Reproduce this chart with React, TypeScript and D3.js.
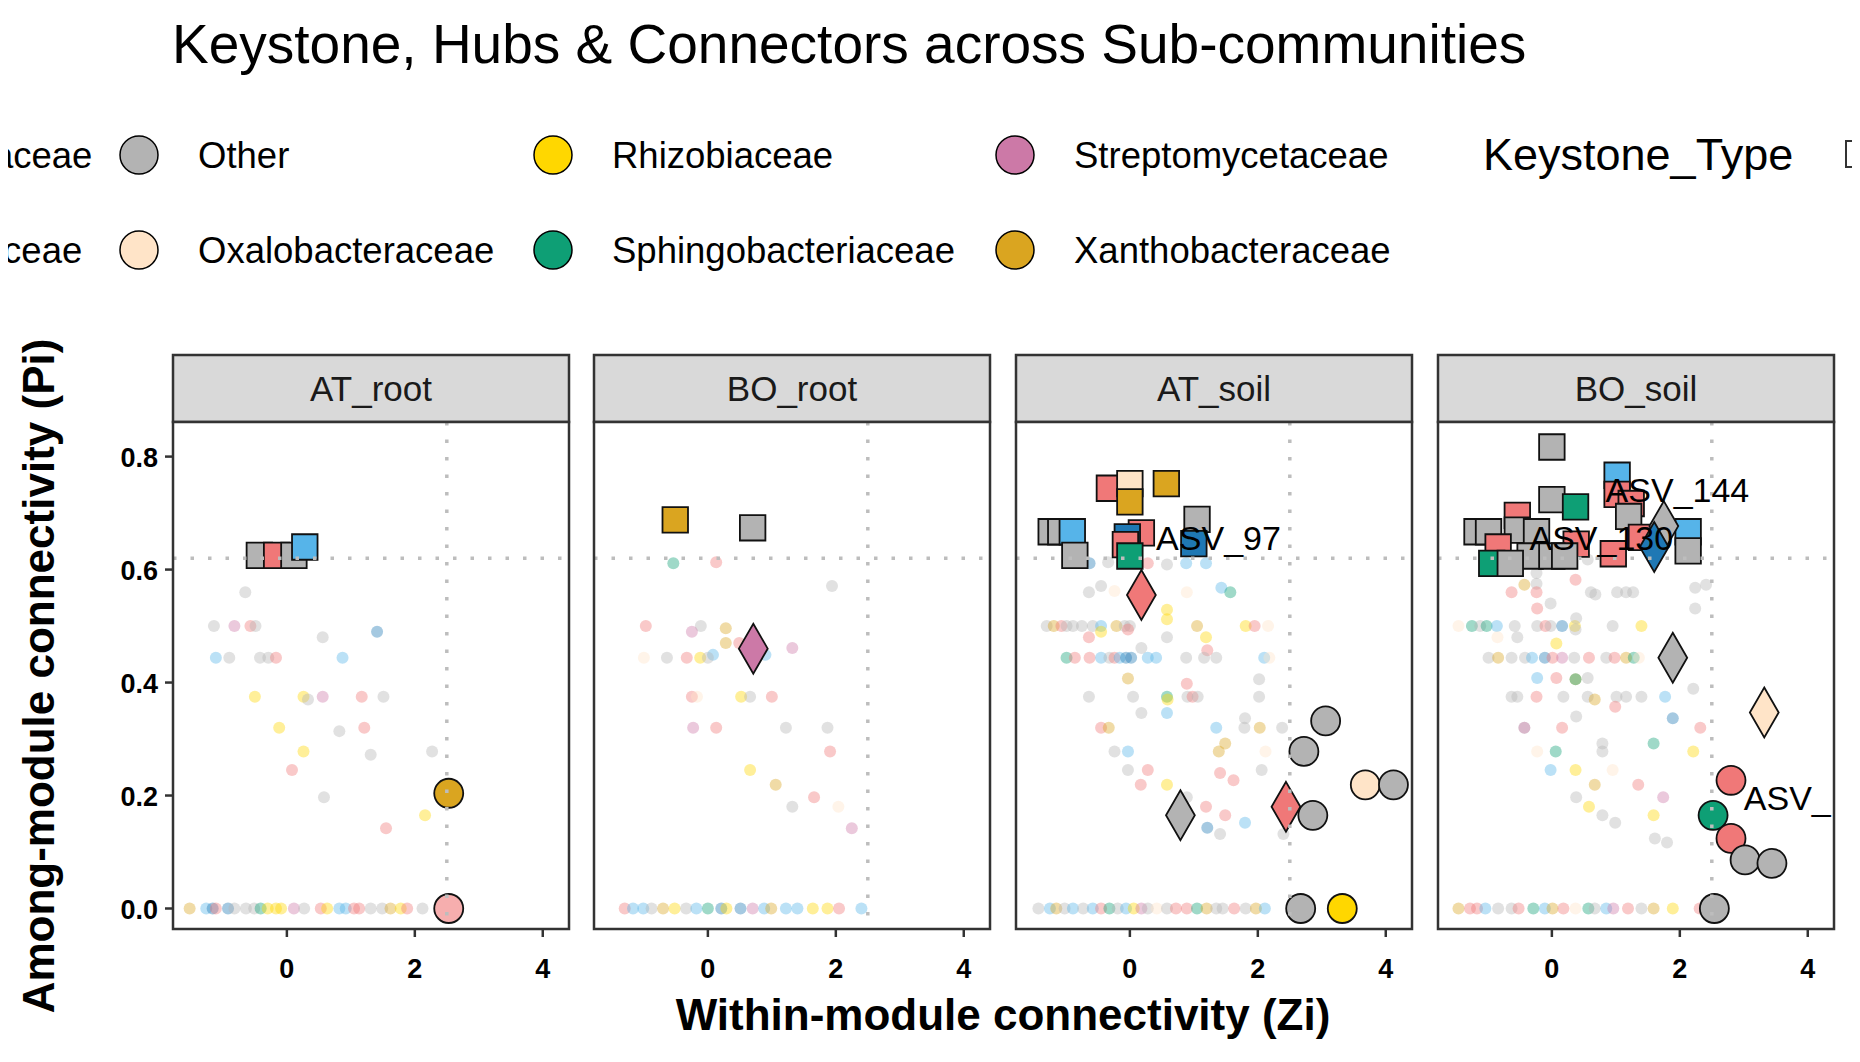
import * as React from 'react';
import { scaleLinear, symbol, symbolSquare, symbolDiamond, symbolCircle } from 'd3';

// family colours
const families: [string, string, string][] = [
  ['B', 'Bacillaceae', '#1F78B4'],
  ['Bu', 'Burkholderiaceae', '#E31A1C'],
  ['C', 'Comamonadaceae', '#F07878'],
  ['F', 'Flavobacteriaceae', '#56B4E9'],
  ['O', 'Other', '#B3B3B3'],
  ['X', 'Oxalobacteraceae', '#FFE4C8'],
  ['R', 'Rhizobiaceae', '#FFD700'],
  ['G', 'Sphingobacteriaceae', '#0E9F75'],
  ['S', 'Streptomycetaceae', '#CC79A7'],
  ['Y', 'Xanthobacteraceae', '#DAA520'],
];
const colorOf = (k: string) => (families.find(f => f[0] === k) || families[4])[2];

const panels = ['AT_root', 'BO_root', 'AT_soil', 'BO_soil'];
const xTicks = [0, 2, 4];
const yTicks = [0, 0.2, 0.4, 0.6, 0.8];

type P = [number, number, string];
type K = [number, number, string, string];

const atRootBg: P[] = [
  [-0.65, 0.56, 'O'], [-1.14, 0.5, 'O'], [-0.82, 0.5, 'S'], [-0.57, 0.5, 'C'], [-0.49, 0.5, 'O'],
  [0.56, 0.48, 'O'], [1.41, 0.49, 'B'], [-1.11, 0.444, 'F'], [-0.9, 0.444, 'O'], [-0.42, 0.444, 'O'],
  [-0.29, 0.444, 'O'], [-0.17, 0.444, 'C'], [0.87, 0.444, 'F'], [-0.5, 0.375, 'R'], [0.26, 0.375, 'R'],
  [0.33, 0.37, 'O'], [0.56, 0.375, 'S'], [1.17, 0.375, 'C'], [1.51, 0.375, 'O'], [-0.12, 0.32, 'R'],
  [0.82, 0.314, 'O'], [1.21, 0.32, 'C'], [0.26, 0.278, 'R'], [1.31, 0.272, 'O'], [2.27, 0.278, 'O'],
  [0.08, 0.245, 'C'], [0.58, 0.197, 'O'], [2.16, 0.165, 'R'], [1.55, 0.142, 'C'],
  [-1.52, 0, 'Y'], [-1.26, 0, 'F'], [-1.16, 0, 'B'], [-1.11, 0, 'C'], [-0.92, 0, 'B'], [-0.82, 0, 'O'],
  [-0.64, 0, 'O'], [-0.51, 0, 'O'], [-0.41, 0, 'G'], [-0.3, 0, 'R'], [-0.17, 0, 'R'], [-0.09, 0, 'R'],
  [0.11, 0, 'S'], [0.27, 0, 'O'], [0.53, 0, 'C'], [0.63, 0, 'R'], [0.82, 0, 'F'], [0.92, 0, 'F'],
  [1.05, 0, 'C'], [1.13, 0, 'C'], [1.31, 0, 'O'], [1.49, 0, 'O'], [1.62, 0, 'Y'], [1.78, 0, 'R'],
  [1.88, 0, 'C'], [2.12, 0, 'O'],
];
const atRootKey: K[] = [
  [-0.43, 0.625, 'O', 'sq'], [-0.16, 0.625, 'C', 'sq'], [0.11, 0.625, 'O', 'sq'], [0.28, 0.64, 'F', 'sq'],
  [2.53, 0.204, 'Y', 'ci'], [2.53, 0.0, 'C', 'ci'],
];

const boRootBg: P[] = [
  [-0.54, 0.611, 'G'], [0.13, 0.613, 'C'], [1.94, 0.571, 'O'], [-0.97, 0.5, 'C'], [-0.11, 0.5, 'O'],
  [-0.25, 0.49, 'S'], [0.28, 0.496, 'Y'], [0.28, 0.47, 'Y'], [0.49, 0.47, 'C'], [1.32, 0.461, 'S'],
  [0.9, 0.449, 'F'], [-1.0, 0.444, 'X'], [-0.64, 0.444, 'O'], [-0.33, 0.444, 'C'], [-0.12, 0.444, 'R'],
  [0.08, 0.449, 'F'], [0.0, 0.444, 'O'], [-0.25, 0.375, 'C'], [-0.17, 0.375, 'X'], [0.52, 0.375, 'R'],
  [0.66, 0.375, 'O'], [1.0, 0.375, 'C'], [-0.23, 0.32, 'S'], [0.13, 0.32, 'C'], [1.22, 0.32, 'O'],
  [1.87, 0.32, 'O'], [1.91, 0.278, 'C'], [0.66, 0.245, 'R'], [1.06, 0.219, 'Y'], [1.66, 0.197, 'C'],
  [1.32, 0.18, 'O'], [2.04, 0.18, 'X'], [2.25, 0.142, 'S'],
  [-1.3, 0, 'C'], [-1.17, 0, 'F'], [-1.01, 0, 'F'], [-0.88, 0, 'O'], [-0.7, 0, 'Y'], [-0.52, 0, 'R'],
  [-0.34, 0, 'O'], [-0.18, 0, 'F'], [0, 0, 'G'], [0.21, 0, 'B'], [0.29, 0, 'R'], [0.51, 0, 'B'],
  [0.7, 0, 'S'], [0.88, 0, 'F'], [0.99, 0, 'Y'], [1.22, 0, 'F'], [1.4, 0, 'F'], [1.64, 0, 'R'],
  [1.87, 0, 'R'], [2.05, 0, 'C'], [2.4, 0, 'F'],
];
const boRootKey: K[] = [
  [-0.51, 0.688, 'Y', 'sq'], [0.7, 0.674, 'O', 'sq'], [0.71, 0.46, 'S', 'di'],
];

const atSoilBg: P[] = [
  [-0.63, 0.611, 'B'], [-0.34, 0.613, 'O'], [0.28, 0.611, 'C'], [0.58, 0.609, 'O'], [0.88, 0.611, 'F'],
  [1.19, 0.611, 'F'], [-0.64, 0.56, 'O'], [-0.45, 0.571, 'O'], [-0.24, 0.562, 'X'], [0.89, 0.56, 'X'],
  [1.43, 0.568, 'F'], [1.57, 0.56, 'G'], [0.58, 0.529, 'R'], [0.58, 0.512, 'R'],
  [-1.3, 0.5, 'O'], [-1.19, 0.5, 'Y'], [-1.07, 0.5, 'C'], [-0.99, 0.5, 'O'], [-0.89, 0.5, 'O'],
  [-0.75, 0.5, 'O'], [-0.58, 0.5, 'O'], [-0.45, 0.5, 'F'], [-0.21, 0.5, 'Y'], [-0.08, 0.5, 'O'],
  [0, 0.5, 'O'], [1.05, 0.5, 'Y'], [1.81, 0.5, 'R'], [1.95, 0.5, 'C'], [2.16, 0.5, 'X'],
  [-0.03, 0.494, 'C'], [-0.64, 0.48, 'C'], [-0.45, 0.49, 'R'], [0.58, 0.48, 'O'], [1.19, 0.48, 'R'],
  [0.18, 0.461, 'O'], [1.21, 0.457, 'C'],
  [-0.99, 0.444, 'G'], [-0.86, 0.444, 'C'], [-0.63, 0.444, 'C'], [-0.45, 0.444, 'F'], [-0.32, 0.444, 'O'],
  [-0.24, 0.444, 'C'], [-0.16, 0.444, 'F'], [-0.06, 0.444, 'B'], [0.02, 0.444, 'B'], [0.28, 0.444, 'F'],
  [0.41, 0.444, 'F'], [0.88, 0.444, 'O'], [1.16, 0.444, 'O'], [1.35, 0.444, 'O'], [2.1, 0.444, 'F'],
  [2.18, 0.444, 'X'], [-0.03, 0.407, 'Y'], [2.02, 0.406, 'O'], [0.89, 0.398, 'C'],
  [-0.64, 0.375, 'O'], [0.05, 0.375, 'O'], [0.58, 0.375, 'G'], [0.59, 0.37, 'R'], [0.9, 0.375, 'O'],
  [0.98, 0.375, 'C'], [1.06, 0.375, 'O'], [2.02, 0.375, 'O'], [0.18, 0.346, 'O'], [0.58, 0.346, 'F'],
  [1.8, 0.337, 'O'], [-0.45, 0.32, 'C'], [-0.33, 0.32, 'Y'], [1.35, 0.32, 'F'], [1.79, 0.32, 'O'],
  [2.03, 0.32, 'Y'], [2.38, 0.32, 'O'], [1.49, 0.292, 'Y'], [1.39, 0.278, 'Y'], [-0.24, 0.278, 'O'],
  [-0.03, 0.278, 'F'], [2.12, 0.278, 'X'], [-0.03, 0.245, 'O'], [0.28, 0.245, 'C'], [1.41, 0.24, 'C'],
  [2.06, 0.245, 'O'], [0.17, 0.219, 'C'], [0.58, 0.219, 'R'], [1.62, 0.227, 'C'], [0.89, 0.197, 'O'],
  [1.19, 0.18, 'C'], [1.49, 0.165, 'C'], [1.8, 0.152, 'F'], [1.21, 0.143, 'B'], [1.41, 0.132, 'O'],
  [2.4, 0.132, 'O'],
  [-1.43, 0, 'O'], [-1.25, 0, 'F'], [-1.15, 0, 'Y'], [-1.02, 0, 'O'], [-0.89, 0, 'F'], [-0.73, 0, 'O'],
  [-0.58, 0, 'F'], [-0.45, 0, 'C'], [-0.32, 0, 'G'], [-0.19, 0, 'O'], [-0.06, 0, 'F'], [0.06, 0, 'R'],
  [0.18, 0, 'S'], [0.28, 0, 'O'], [0.42, 0, 'X'], [0.58, 0, 'O'], [0.72, 0, 'C'], [0.89, 0, 'C'],
  [1.05, 0, 'G'], [1.2, 0, 'Y'], [1.35, 0, 'O'], [1.45, 0, 'O'], [1.63, 0, 'C'], [1.81, 0, 'O'],
  [1.97, 0, 'Y'], [2.11, 0, 'F'],
];
const atSoilKey: K[] = [
  [-0.32, 0.744, 'C', 'sq'], [0.0, 0.752, 'X', 'sq'], [0.0, 0.72, 'Y', 'sq'], [0.57, 0.752, 'Y', 'sq'],
  [1.05, 0.689, 'O', 'sq'], [-1.23, 0.667, 'O', 'sq'], [-1.08, 0.667, 'O', 'sq'], [-0.9, 0.667, 'F', 'sq'],
  [0.18, 0.665, 'C', 'sq'], [-0.04, 0.658, 'B', 'sq'], [-0.07, 0.644, 'C', 'sq'], [0.0, 0.624, 'G', 'sq'],
  [-0.86, 0.625, 'O', 'sq'], [1.0, 0.646, 'B', 'sq'],
  [0.18, 0.555, 'C', 'di'], [0.79, 0.165, 'O', 'di'], [2.44, 0.18, 'C', 'di'],
  [3.06, 0.332, 'O', 'ci'], [2.72, 0.278, 'O', 'ci'], [3.68, 0.219, 'X', 'ci'], [4.12, 0.219, 'O', 'ci'],
  [2.86, 0.165, 'O', 'ci'], [2.67, 0, 'O', 'ci'], [3.32, 0, 'R', 'ci'],
];

const boSoilBg: P[] = [
  [-0.24, 0.594, 'O'], [0.56, 0.618, 'O'], [-0.43, 0.573, 'Y'], [-0.24, 0.575, 'O'], [0.37, 0.582, 'C'],
  [-0.63, 0.56, 'C'], [-0.24, 0.56, 'C'], [0.61, 0.56, 'O'], [0.68, 0.556, 'O'], [1.02, 0.56, 'O'],
  [1.16, 0.56, 'O'], [1.27, 0.56, 'O'], [2.24, 0.568, 'O'], [2.41, 0.573, 'O'], [-0.23, 0.531, 'C'],
  [-0.02, 0.54, 'O'], [2.24, 0.531, 'O'],
  [-1.46, 0.5, 'X'], [-1.25, 0.5, 'G'], [-1.12, 0.5, 'O'], [-1.02, 0.5, 'G'], [-0.86, 0.5, 'F'],
  [-0.58, 0.5, 'O'], [-0.23, 0.5, 'O'], [-0.1, 0.5, 'C'], [-0.02, 0.5, 'O'], [0.16, 0.5, 'B'],
  [0.36, 0.5, 'R'], [0.95, 0.5, 'O'], [1.4, 0.5, 'R'], [0.38, 0.514, 'O'], [-0.85, 0.48, 'X'],
  [-0.54, 0.48, 'O'], [0.07, 0.469, 'R'], [0.37, 0.494, 'O'],
  [-0.99, 0.444, 'O'], [-0.84, 0.444, 'Y'], [-0.63, 0.444, 'O'], [-0.42, 0.444, 'O'], [-0.31, 0.444, 'F'],
  [-0.11, 0.444, 'B'], [0.01, 0.444, 'C'], [0.16, 0.444, 'S'], [0.35, 0.444, 'O'], [0.58, 0.444, 'C'],
  [0.85, 0.444, 'O'], [0.98, 0.444, 'C'], [1.16, 0.444, 'Y'], [1.28, 0.444, 'G'], [1.36, 0.444, 'X'],
  [-0.23, 0.408, 'F'], [0.07, 0.408, 'C'], [0.37, 0.406, 'Y'], [0.37, 0.406, 'G'], [0.56, 0.408, 'O'],
  [-0.63, 0.375, 'O'], [-0.54, 0.375, 'O'], [-0.24, 0.375, 'C'], [0.18, 0.375, 'O'], [0.56, 0.375, 'O'],
  [0.67, 0.37, 'Y'], [1.01, 0.375, 'O'], [1.16, 0.375, 'O'], [1.4, 0.375, 'O'], [1.77, 0.375, 'F'],
  [2.21, 0.389, 'O'], [0.99, 0.357, 'C'], [0.38, 0.34, 'O'], [1.89, 0.337, 'B'], [-0.43, 0.32, 'O'],
  [-0.43, 0.32, 'S'], [0.16, 0.32, 'C'], [2.32, 0.32, 'C'], [0.79, 0.292, 'O'], [0.79, 0.278, 'O'],
  [1.59, 0.292, 'G'], [-0.23, 0.278, 'X'], [0.06, 0.278, 'G'], [2.21, 0.278, 'R'], [-0.02, 0.245, 'F'],
  [0.37, 0.245, 'R'], [0.95, 0.245, 'X'], [0.67, 0.219, 'Y'], [1.35, 0.219, 'C'], [0.38, 0.197, 'O'],
  [1.74, 0.197, 'S'], [0.58, 0.18, 'R'], [0.79, 0.165, 'O'], [0.99, 0.152, 'O'], [1.59, 0.165, 'R'],
  [1.61, 0.124, 'O'], [1.8, 0.117, 'O'],
  [-1.46, 0, 'Y'], [-1.28, 0, 'C'], [-1.17, 0, 'C'], [-1.04, 0, 'F'], [-0.84, 0, 'O'], [-0.63, 0, 'O'],
  [-0.52, 0, 'C'], [-0.29, 0, 'G'], [-0.11, 0, 'F'], [0.01, 0, 'Y'], [0.18, 0, 'C'], [0.37, 0, 'X'],
  [0.57, 0, 'G'], [0.67, 0, 'O'], [0.85, 0, 'F'], [0.96, 0, 'S'], [1.19, 0, 'C'], [1.4, 0, 'O'],
  [1.59, 0, 'Y'], [1.89, 0, 'R'], [2.31, 0, 'C'],
];
const boSoilKey: K[] = [
  [0, 0.817, 'O', 'sq'], [1.02, 0.767, 'F', 'sq'], [1.02, 0.733, 'C', 'sq'], [1.24, 0.717, 'C', 'sq'],
  [0, 0.724, 'O', 'sq'], [0.37, 0.711, 'G', 'sq'], [1.2, 0.694, 'O', 'sq'], [-0.54, 0.696, 'C', 'sq'],
  [-1.17, 0.667, 'O', 'sq'], [-0.99, 0.667, 'O', 'sq'], [-0.54, 0.67, 'O', 'sq'], [-0.24, 0.667, 'O', 'sq'],
  [2.13, 0.667, 'F', 'sq'], [2.13, 0.633, 'O', 'sq'], [-0.84, 0.64, 'C', 'sq'], [0.38, 0.645, 'C', 'sq'],
  [-0.34, 0.624, 'O', 'sq'], [0, 0.624, 'O', 'sq'], [0.2, 0.624, 'O', 'sq'], [0.96, 0.628, 'C', 'sq'],
  [-0.94, 0.611, 'G', 'sq'], [-0.65, 0.611, 'O', 'sq'], [1.4, 0.657, 'C', 'sq'],
  [1.75, 0.677, 'O', 'di'], [1.6, 0.64, 'B', 'di'], [1.89, 0.444, 'O', 'di'], [3.32, 0.347, 'X', 'di'],
  [2.8, 0.227, 'C', 'ci'], [2.52, 0.165, 'G', 'ci'], [2.8, 0.124, 'C', 'ci'], [3.02, 0.086, 'O', 'ci'],
  [3.44, 0.08, 'O', 'ci'], [2.54, 0, 'O', 'ci'],
];

const bgData = [atRootBg, boRootBg, atSoilBg, boSoilBg];
const keyData = [atRootKey, boRootKey, atSoilKey, boSoilKey];
// labels: [panel, zi, pi, text]
const labels: [number, number, number, string][] = [
  [2, 0.41, 0.635, 'ASV_97'], [3, 0.84, 0.72, 'ASV_144'], [3, -0.35, 0.635, 'ASV_130'], [3, 3.0, 0.175, 'ASV_'],
];

const W = 1860, H = 1062;
const panelLeft = [173, 594, 1016, 1438];
const panelW = 396;
const top = 422, bottom = 929, stripTop = 355;
const font = 'Arial, "Liberation Sans", Helvetica, sans-serif';

const y = scaleLinear().domain([0, 0.8]).range([908.5, 456.6]);
const shapeSize: Record<string, number> = { sq: 650, di: 720, ci: 660 };
const shapeType: Record<string, any> = { sq: symbolSquare, di: symbolDiamond, ci: symbolCircle };

export default function App() {
  const legendCols = [-740, -275, 139, 553, 1015];
  return (
    <svg width={W} height={H} style={{ display: 'block', margin: '-8px' }} fontFamily={font}>
      <rect width={W} height={H} fill="#fff" />
      <text x={172} y={63} fontSize={55}>Keystone, Hubs &amp; Connectors across Sub-communities</text>
      {families.map((f, i) => {
        const cx = legendCols[Math.floor(i / 2)];
        const cy = i % 2 === 0 ? 155 : 250;
        return (
          <g key={f[0]}>
            <circle cx={cx} cy={cy} r={19} fill={f[2]} stroke="#000" strokeWidth={1.5} />
            <text x={cx + 59} y={cy + 13} fontSize={36.5}>{f[1]}</text>
          </g>
        );
      })}
      <text x={1483} y={170} fontSize={45}>Keystone_Type</text>
      <rect x={1846} y={141} width={26} height={26} fill="none" stroke="#333" strokeWidth={2} />

      {panels.map((name, pi) => {
        const x0 = panelLeft[pi];
        const x = scaleLinear().domain([-1.78, 4.41]).range([x0, x0 + panelW]);
        return (
          <g key={name}>
            <rect x={x0} y={stripTop} width={panelW} height={top - stripTop} fill="#D9D9D9" stroke="#333" strokeWidth={2.5} />
            <text x={x0 + panelW / 2} y={401} fontSize={35} textAnchor="middle" fill="#1a1a1a">{name}</text>
            <rect x={x0} y={top} width={panelW} height={bottom - top} fill="#fff" />
            {bgData[pi].map((d, i) => (
              <circle key={i} cx={x(d[0])} cy={y(d[1])} r={6} fill={colorOf(d[2])} opacity={0.4} />
            ))}
            {keyData[pi].map((d, i) => (
              <path key={i}
                d={symbol().type(shapeType[d[3]]).size(shapeSize[d[3]])() as string}
                transform={`translate(${x(d[0])},${y(d[1])})`}
                fill={colorOf(d[2])} stroke="#111" strokeWidth={1.8}
                fillOpacity={d[2] === 'C' && d[1] === 0 && pi === 0 ? 0.6 : 1} />
            ))}
            <line x1={x0} x2={x0 + panelW} y1={y(0.62)} y2={y(0.62)} stroke="#BDBDBD" strokeWidth={3.5} strokeDasharray="3.5,14" />
            <line x1={x(2.5)} x2={x(2.5)} y1={top} y2={bottom} stroke="#BDBDBD" strokeWidth={3.5} strokeDasharray="3.5,14" />
            {labels.filter(l => l[0] === pi).map((l, i) => (
              <text key={i} x={x(l[1])} y={y(l[2])} fontSize={34}>{l[3]}</text>
            ))}
            <rect x={x0} y={top} width={panelW} height={bottom - top} fill="none" stroke="#333" strokeWidth={2.5} />
            {xTicks.map(t => (
              <g key={t}>
                <line x1={x(t)} x2={x(t)} y1={bottom} y2={bottom + 8} stroke="#333" strokeWidth={2.5} />
                <text x={x(t)} y={978} fontSize={27} fontWeight="bold" textAnchor="middle">{t}</text>
              </g>
            ))}
          </g>
        );
      })}
      {yTicks.map(t => (
        <g key={t}>
          <line x1={165} x2={173} y1={y(t)} y2={y(t)} stroke="#333" strokeWidth={2.5} />
          <text x={158} y={y(t) + 10} fontSize={27} fontWeight="bold" textAnchor="end">{t.toFixed(1)}</text>
        </g>
      ))}
      <text x={1003} y={1030} fontSize={44} fontWeight="bold" textAnchor="middle">Within-module connectivity (Zi)</text>
      <text transform="translate(54,676) rotate(-90)" fontSize={44} fontWeight="bold" textAnchor="middle">Among-module connectivity (Pi)</text>
    </svg>
  );
}
